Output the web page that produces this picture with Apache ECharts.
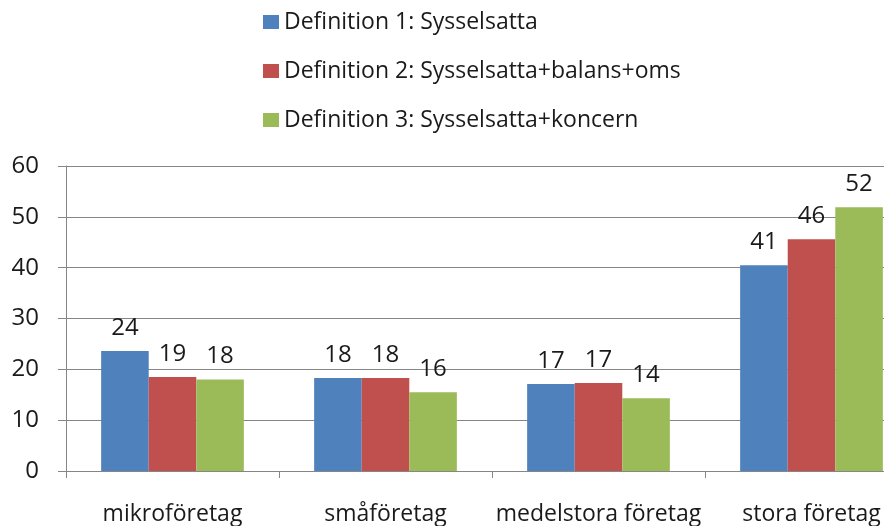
<!DOCTYPE html>
<html>
<head>
<meta charset="utf-8">
<script src="https://cdn.jsdelivr.net/npm/echarts@6/dist/echarts.min.js"></script>
<style>
  html, body { margin: 0; padding: 0; background: #fff; overflow: hidden; }
  /* the original plot runs past the right edge of the picture */
  #chart { width: 918px; height: 526px; }
</style>
</head>
<body>
<div id="chart"></div>
<script>
var categories = ['mikroföretag', 'småföretag', 'medelstora företag', 'stora företag'];
var seriesNames = [
    'Definition 1: Sysselsatta',
    'Definition 2: Sysselsatta+balans+oms',
    'Definition 3: Sysselsatta+koncern'
];
var def1 = [23.6, 18.3, 17.1, 40.5];
var def2 = [18.5, 18.3, 17.3, 45.6];
var def3 = [18.0, 15.5, 14.3, 51.9];
var yTicks = [0, 10, 20, 30, 40, 50, 60];
var colors = ['#4F81BD', '#C0504D', '#9BBB59'];

var font = '"Open Sans", sans-serif';
var gray = '#868686';
var txt = '#1a1a1a';

function barSeries(name, data, color) {
    return {
        name: name,
        type: 'bar',
        data: data,
        barGap: 0,
        barCategoryGap: '33%',
        itemStyle: { color: color },
        label: {
            show: true,
            position: 'top',
            distance: 11,
            color: txt,
            fontFamily: font,
            fontSize: 24,
            formatter: function (p) { return Math.round(p.value); }
        }
    };
}

var myChart = echarts.init(document.getElementById('chart'));
var option = {
    animation: false,
    legend: {
        orient: 'vertical',
        left: 258,
        top: 5,
        itemWidth: 16,
        itemHeight: 14,
        itemGap: 25,
        icon: 'rect',
        textStyle: { fontFamily: font, fontSize: 23, color: txt, lineHeight: 24 },
        data: seriesNames
    },
    grid: { left: 66, right: 0, top: 166, bottom: 55, outerBoundsMode: 'none', containLabel: false },
    xAxis: {
        type: 'category',
        data: categories,
        axisLine: { lineStyle: { color: gray } },
        axisTick: { show: true, length: 7, lineStyle: { color: gray } },
        axisLabel: { interval: 0, margin: 32, color: txt, fontFamily: font, fontSize: 23 }
    },
    yAxis: {
        type: 'value',
        min: yTicks[0],
        max: yTicks[yTicks.length - 1],
        interval: 10,
        axisLine: { show: true, lineStyle: { color: gray } },
        axisTick: { show: true, length: 8, lineStyle: { color: gray } },
        splitLine: { show: true, lineStyle: { color: gray } },
        axisLabel: { margin: 27, color: txt, fontFamily: font, fontSize: 24 }
    },
    series: [
        barSeries(seriesNames[0], def1, colors[0]),
        barSeries(seriesNames[1], def2, colors[1]),
        barSeries(seriesNames[2], def3, colors[2])
    ]
};
myChart.setOption(option);
</script>
</body>
</html>
